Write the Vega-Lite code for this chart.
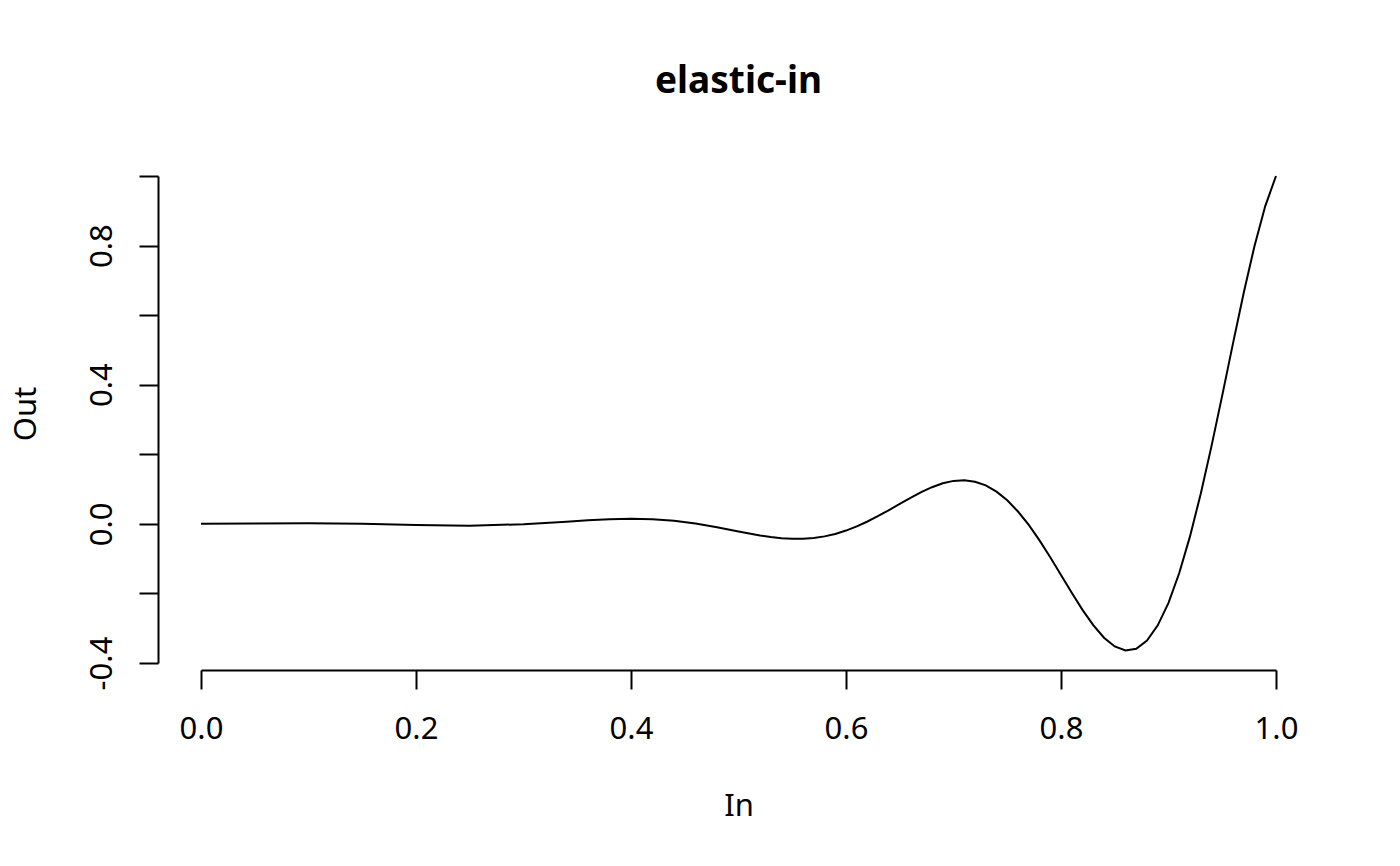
{
  "$schema": "https://vega.github.io/schema/vega-lite/v6.json",
  "width": 1075,
  "height": 487,
  "autosize": {"type": "none"},
  "padding": {"left": 201, "top": 176, "right": 124, "bottom": 203},
  "background": "white",
  "title": {
    "text": "elastic-in",
    "font": "Noto Sans",
    "fontSize": 37,
    "fontWeight": "bold",
    "color": "black",
    "anchor": "middle",
    "frame": "group",
    "baseline": "alphabetic",
    "offset": 42
  },
  "config": {
    "view": {"stroke": null},
    "font": "Noto Sans"
  },
  "data": {
    "values": [
      {"x": 0.0, "y": 0.0},
      {"x": 0.05, "y": 0.00118},
      {"x": 0.1, "y": 0.00174},
      {"x": 0.15, "y": 0.00022},
      {"x": 0.2, "y": -0.00316},
      {"x": 0.25, "y": -0.0051},
      {"x": 0.3, "y": -0.00122},
      {"x": 0.32, "y": 0.00223},
      {"x": 0.34, "y": 0.00632},
      {"x": 0.36, "y": 0.01038},
      {"x": 0.38, "y": 0.01354},
      {"x": 0.4, "y": 0.01486},
      {"x": 0.42, "y": 0.01346},
      {"x": 0.44, "y": 0.00878},
      {"x": 0.46, "y": 0.00074},
      {"x": 0.48, "y": -0.01001},
      {"x": 0.5, "y": -0.0221},
      {"x": 0.52, "y": -0.03338},
      {"x": 0.53, "y": -0.0379},
      {"x": 0.54, "y": -0.04121},
      {"x": 0.55, "y": -0.04297},
      {"x": 0.56, "y": -0.04286},
      {"x": 0.57, "y": -0.0406},
      {"x": 0.58, "y": -0.03598},
      {"x": 0.59, "y": -0.0289},
      {"x": 0.6, "y": -0.01931},
      {"x": 0.61, "y": -0.00735},
      {"x": 0.62, "y": 0.00676},
      {"x": 0.63, "y": 0.02262},
      {"x": 0.64, "y": 0.03973},
      {"x": 0.65, "y": 0.0574},
      {"x": 0.66, "y": 0.07486},
      {"x": 0.67, "y": 0.0912},
      {"x": 0.68, "y": 0.1054},
      {"x": 0.69, "y": 0.1165},
      {"x": 0.7, "y": 0.1235},
      {"x": 0.71, "y": 0.1253},
      {"x": 0.72, "y": 0.1212},
      {"x": 0.73, "y": 0.1105},
      {"x": 0.74, "y": 0.0927},
      {"x": 0.75, "y": 0.06765},
      {"x": 0.76, "y": 0.03551},
      {"x": 0.77, "y": -0.00319},
      {"x": 0.78, "y": -0.04747},
      {"x": 0.79, "y": -0.09599},
      {"x": 0.8, "y": -0.14695},
      {"x": 0.81, "y": -0.19817},
      {"x": 0.82, "y": -0.24717},
      {"x": 0.83, "y": -0.2912},
      {"x": 0.84, "y": -0.32727},
      {"x": 0.85, "y": -0.35246},
      {"x": 0.86, "y": -0.36389},
      {"x": 0.87, "y": -0.35893},
      {"x": 0.88, "y": -0.33538},
      {"x": 0.89, "y": -0.29166},
      {"x": 0.9, "y": -0.227},
      {"x": 0.91, "y": -0.14142},
      {"x": 0.92, "y": -0.03607},
      {"x": 0.93, "y": 0.08673},
      {"x": 0.94, "y": 0.22346},
      {"x": 0.95, "y": 0.36946},
      {"x": 0.96, "y": 0.51876},
      {"x": 0.97, "y": 0.66451},
      {"x": 0.98, "y": 0.79899},
      {"x": 0.99, "y": 0.91363},
      {"x": 1.0, "y": 1.0}
    ]
  },
  "mark": {"type": "line", "color": "black", "strokeWidth": 2, "interpolate": "linear"},
  "encoding": {
    "x": {
      "field": "x",
      "type": "quantitative",
      "scale": {"domain": [0, 1], "nice": false, "zero": false},
      "axis": {
        "title": "In",
        "values": [0, 0.2, 0.4, 0.6, 0.8, 1.0],
        "format": ".1f",
        "offset": 7,
        "grid": false,
        "domainColor": "black",
        "domainWidth": 2,
        "tickColor": "black",
        "tickWidth": 2,
        "tickSize": 19,
        "labelFont": "Noto Sans",
        "labelFontSize": 31,
        "labelColor": "black",
        "labelBaseline": "alphabetic",
        "labelPadding": 49,
        "labelOverlap": false,
        "labelBound": false,
        "labelFlush": false,
        "titleFont": "Noto Sans",
        "titleFontSize": 31,
        "titleFontWeight": "normal",
        "titleColor": "black",
        "titleBaseline": "alphabetic",
        "titleAlign": "center",
        "titleX": 537.5,
        "titleY": 145
      }
    },
    "y": {
      "field": "y",
      "type": "quantitative",
      "scale": {"domain": [-0.4, 1.0], "nice": false, "zero": false},
      "axis": {
        "title": "Out",
        "values": [-0.4, -0.2, 0, 0.2, 0.4, 0.6, 0.8, 1.0],
        "labelExpr": "datum.value == -0.4 ? '-0.4' : datum.value == 0 ? '0.0' : datum.value == 0.4 ? '0.4' : datum.value == 0.8 ? '0.8' : ''",
        "offset": 43,
        "grid": false,
        "domainColor": "black",
        "domainWidth": 2,
        "tickColor": "black",
        "tickWidth": 2,
        "tickSize": 19,
        "labelFont": "Noto Sans",
        "labelFontSize": 31,
        "labelColor": "black",
        "labelAngle": 270,
        "labelAlign": "center",
        "labelBaseline": "alphabetic",
        "labelPadding": 28,
        "labelOverlap": false,
        "labelBound": false,
        "labelFlush": false,
        "titleFont": "Noto Sans",
        "titleFontSize": 31,
        "titleFontWeight": "normal",
        "titleColor": "black",
        "titleAngle": 270,
        "titleBaseline": "alphabetic",
        "titleAlign": "center",
        "titleX": -123,
        "titleY": 237.5
      }
    }
  }
}
